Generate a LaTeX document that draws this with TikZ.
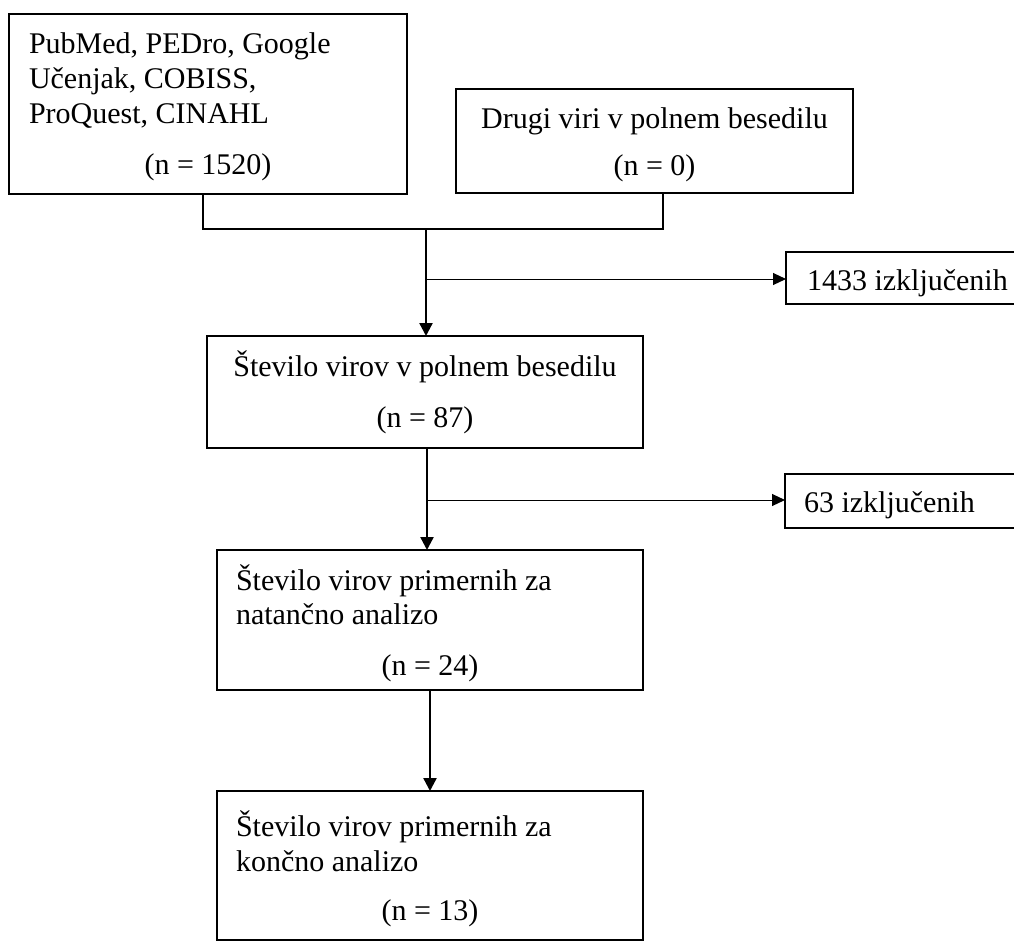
\documentclass[tikz,border=0pt]{standalone}
\usepackage{fontspec}
\setmainfont{Liberation Serif}
\usetikzlibrary{arrows.meta}
\begin{document}
\begin{tikzpicture}[x=1pt,y=-1pt,
  boxmain/.style={draw=black, line width=2.3pt, anchor=north west, inner sep=0pt, outer sep=0pt},
  boxex/.style={draw=black, line width=1.2pt, anchor=north west, inner sep=0pt, outer sep=0pt},
  txt/.style={inner sep=0pt, outer sep=0pt, font=\fontsize{30}{34}\selectfont},
  txtl/.style={txt, anchor=base west},
  txtc/.style={txt, anchor=base},
  conn/.style={line width=2.3pt},
  mainarrow/.style={line width=2.3pt, -{Triangle[length=13pt,width=13pt]}},
  sidearrow/.style={line width=1pt, -{Triangle[length=13pt,width=12pt]}}]
\useasboundingbox (0,0) rectangle (1014,943);

% boxes
\node[boxmain, minimum width=398pt, minimum height=180pt] (src) at (9,14) {};
\node[boxmain, minimum width=397pt, minimum height=104pt] (oth) at (456,89) {};
\node[boxex, minimum width=232pt, minimum height=52pt] (ex1) at (786,252) {};
\node[boxmain, minimum width=436pt, minimum height=112pt] (s3) at (207,336) {};
\node[boxex, minimum width=233pt, minimum height=54pt] (ex2) at (785,474) {};
\node[boxmain, minimum width=426pt, minimum height=140pt] (s4) at (217,550) {};
\node[boxmain, minimum width=426pt, minimum height=149pt] (s5) at (217,791) {};

% texts
\node[txtl] (t1a) at (29,53) {PubMed, PEDro, Google};
\node[txtl] (t1b) at (29,88) {Učenjak, COBISS,};
\node[txtl] (t1c) at (29,123) {ProQuest, CINAHL};
\node[txtc] (t1n) at (208,174) {(n = 1520)};
\node[txtc] (t2a) at (654.5,128) {Drugi viri v polnem besedilu};
\node[txtc] (t2n) at (654.5,175) {(n = 0)};
\node[txtl] (te1) at (807,290) {1433 izključenih};
\node[txtc] (t3a) at (425,376) {Število virov v polnem besedilu};
\node[txtc] (t3n) at (425,427) {(n = 87)};
\node[txtl] (te2) at (804,512) {63 izključenih};
\node[txtl] (t4a) at (236,590) {Število virov primernih za};
\node[txtl] (t4b) at (236,624) {natančno analizo};
\node[txtc] (t4n) at (430,675) {(n = 24)};
\node[txtl] (t5a) at (236,836) {Število virov primernih za};
\node[txtl] (t5b) at (236,871) {končno analizo};
\node[txtc] (t5n) at (430,920) {(n = 13)};

% connectors
\coordinate (j) at (426,229);
\coordinate (b1) at (426,279);
\coordinate (b2) at (427,500);
\draw[conn] ([xshift=-5pt]src.south) -- ([xshift=-5pt]src.south |- j) -- ([xshift=8.5pt]oth.south |- j) -- ([xshift=8.5pt]oth.south);
\draw[mainarrow] (j) -- (j |- s3.north);
\draw[sidearrow] (b1) -- (ex1.west |- b1);
\draw[mainarrow] (b2 |- s3.south) -- (b2 |- s4.north);
\draw[sidearrow] (b2) -- (ex2.west |- b2);
\draw[mainarrow] (s4.south) -- (s5.north);
\end{tikzpicture}
\end{document}
